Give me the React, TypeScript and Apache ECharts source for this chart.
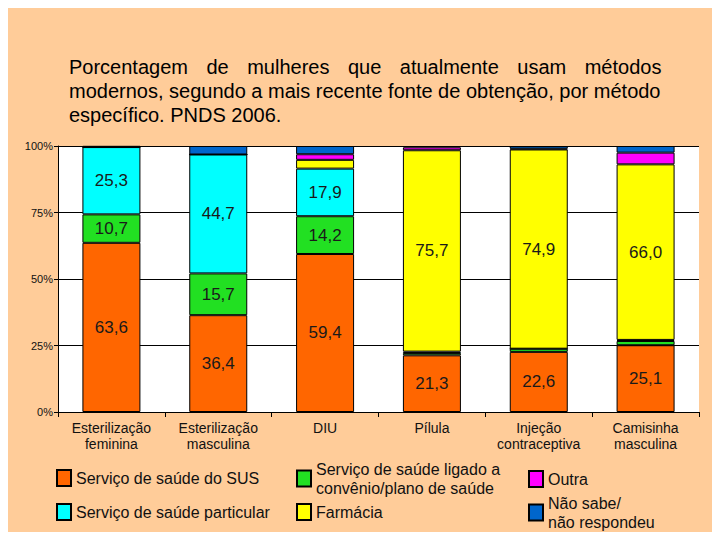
import React, { useRef, useEffect } from 'react'
import * as echarts from 'echarts'

// Categorias (métodos)
const categories = [
  'Esterilização\nfeminina',
  'Esterilização\nmasculina',
  'DIU',
  'Pílula',
  'Injeção\ncontraceptiva',
  'Camisinha\nmasculina',
]

// Fontes de obtenção (%), uma por série
const sus = [63.6, 36.4, 59.4, 21.3, 22.6, 25.1]
const convenio = [10.7, 15.7, 14.2, 0.9, 1.2, 1.6]
const particular = [25.3, 44.7, 17.9, 0.5, 0, 0.4]
const farmacia = [0, 0, 3.3, 75.7, 74.9, 66.0]
const outra = [0.1, 0, 2.1, 1.1, 0.3, 4.4]
const naoSabe = [0.3, 3.2, 3.1, 0.5, 1.0, 2.5]

const yTicks = ['0%', '25%', '50%', '75%', '100%']

const titleLines = [
  'Porcentagem de mulheres que atualmente usam métodos',
  'modernos, segundo a mais recente fonte de obtenção, por método',
  'específico. PNDS 2006.',
]

const FONT = '"Liberation Sans", Arial, sans-serif'

const seriesDefs = [
  { name: 'Serviço de saúde do SUS', data: sus, color: '#FF6600' },
  { name: 'Serviço de saúde ligado a\nconvênio/plano de saúde', data: convenio, color: '#22E022' },
  { name: 'Serviço de saúde particular', data: particular, color: '#00FFFF' },
  { name: 'Farmácia', data: farmacia, color: '#FFFF00' },
  { name: 'Outra', data: outra, color: '#FF00FF' },
  { name: 'Não sabe/\nnão respondeu', data: naoSabe, color: '#0066CC' },
]

// posição de cada item da legenda
const legendPos = [
  { left: 56, top: 468.5 },
  { left: 296, top: 459.5 },
  { left: 56, top: 502.5 },
  { left: 296, top: 502.5 },
  { left: 528, top: 469.5 },
  { left: 528, top: 493.5 },
]

// texto justificado: a primeira linha usa espaços largos
const titleText = [
  titleLines[0].split(' ').join('{g| }'),
  titleLines[1],
  titleLines[2],
].join('\n')

const App: React.FC = () => {
  const chartRef = useRef<HTMLDivElement>(null)

  useEffect(() => {
    if (!chartRef.current) return
    const chart = echarts.init(chartRef.current, undefined, { renderer: 'svg' })

    const series: any[] = seriesDefs.map(s => ({
      name: s.name,
      type: 'bar',
      stack: 'total',
      data: s.data,
      barWidth: 58,
      itemStyle: { color: s.color, borderColor: '#000', borderWidth: 1 },
      label: {
        show: true,
        position: 'inside',
        color: '#1a1a1a',
        fontSize: 17,
        fontFamily: FONT,
        formatter: (p: any) => (p.value >= 5 ? p.value.toFixed(1).replace('.', ',') : ''),
      },
    }))

    chart.setOption({
      animation: false,
      backgroundColor: '#FFCC99',
      title: {
        text: titleText,
        left: 69,
        top: 55,
        padding: 0,
        textStyle: {
          color: '#000',
          fontSize: 20,
          fontWeight: 'normal',
          fontFamily: FONT,
          lineHeight: 24,
          rich: {
            g: { width: 18.5, fontSize: 20, fontFamily: FONT, lineHeight: 24 },
          },
        },
      },
      legend: seriesDefs.map((s, i) => ({
        data: [s.name],
        orient: 'vertical',
        left: legendPos[i].left,
        top: legendPos[i].top,
        padding: 0,
        icon: 'rect',
        itemWidth: 14,
        itemHeight: 16,
        selectedMode: false,
        textStyle: { color: '#111', fontSize: 16, fontFamily: FONT, lineHeight: 19 },
      })),
      grid: {
        left: 58,
        right: 21,
        top: 146,
        bottom: 128,
        show: true,
        backgroundColor: '#FFFFFF',
        borderWidth: 0,
      },
      xAxis: {
        type: 'category',
        data: categories,
        axisLine: { lineStyle: { color: '#000', width: 1 } },
        axisTick: { show: true, length: 5, lineStyle: { color: '#000' } },
        axisLabel: {
          color: '#111',
          fontSize: 14,
          fontFamily: FONT,
          lineHeight: 16,
          margin: 8,
          interval: 0,
        },
      },
      yAxis: {
        type: 'value',
        min: 0,
        max: 100,
        interval: 25,
        axisLine: { show: true, lineStyle: { color: '#000', width: 1 } },
        axisTick: { show: true, length: 4, lineStyle: { color: '#000' } },
        axisLabel: {
          color: '#111',
          fontSize: 11,
          fontFamily: FONT,
          margin: 5,
          formatter: (v: number) => yTicks[v / 25],
        },
        splitLine: { show: true, lineStyle: { color: '#000', width: 1 } },
      },
      series,
    })

    return () => {
      chart.dispose()
    }
  }, [])

  return <div ref={chartRef} style={{ width: 720, height: 540, margin: -8 }} />
}

export default App
